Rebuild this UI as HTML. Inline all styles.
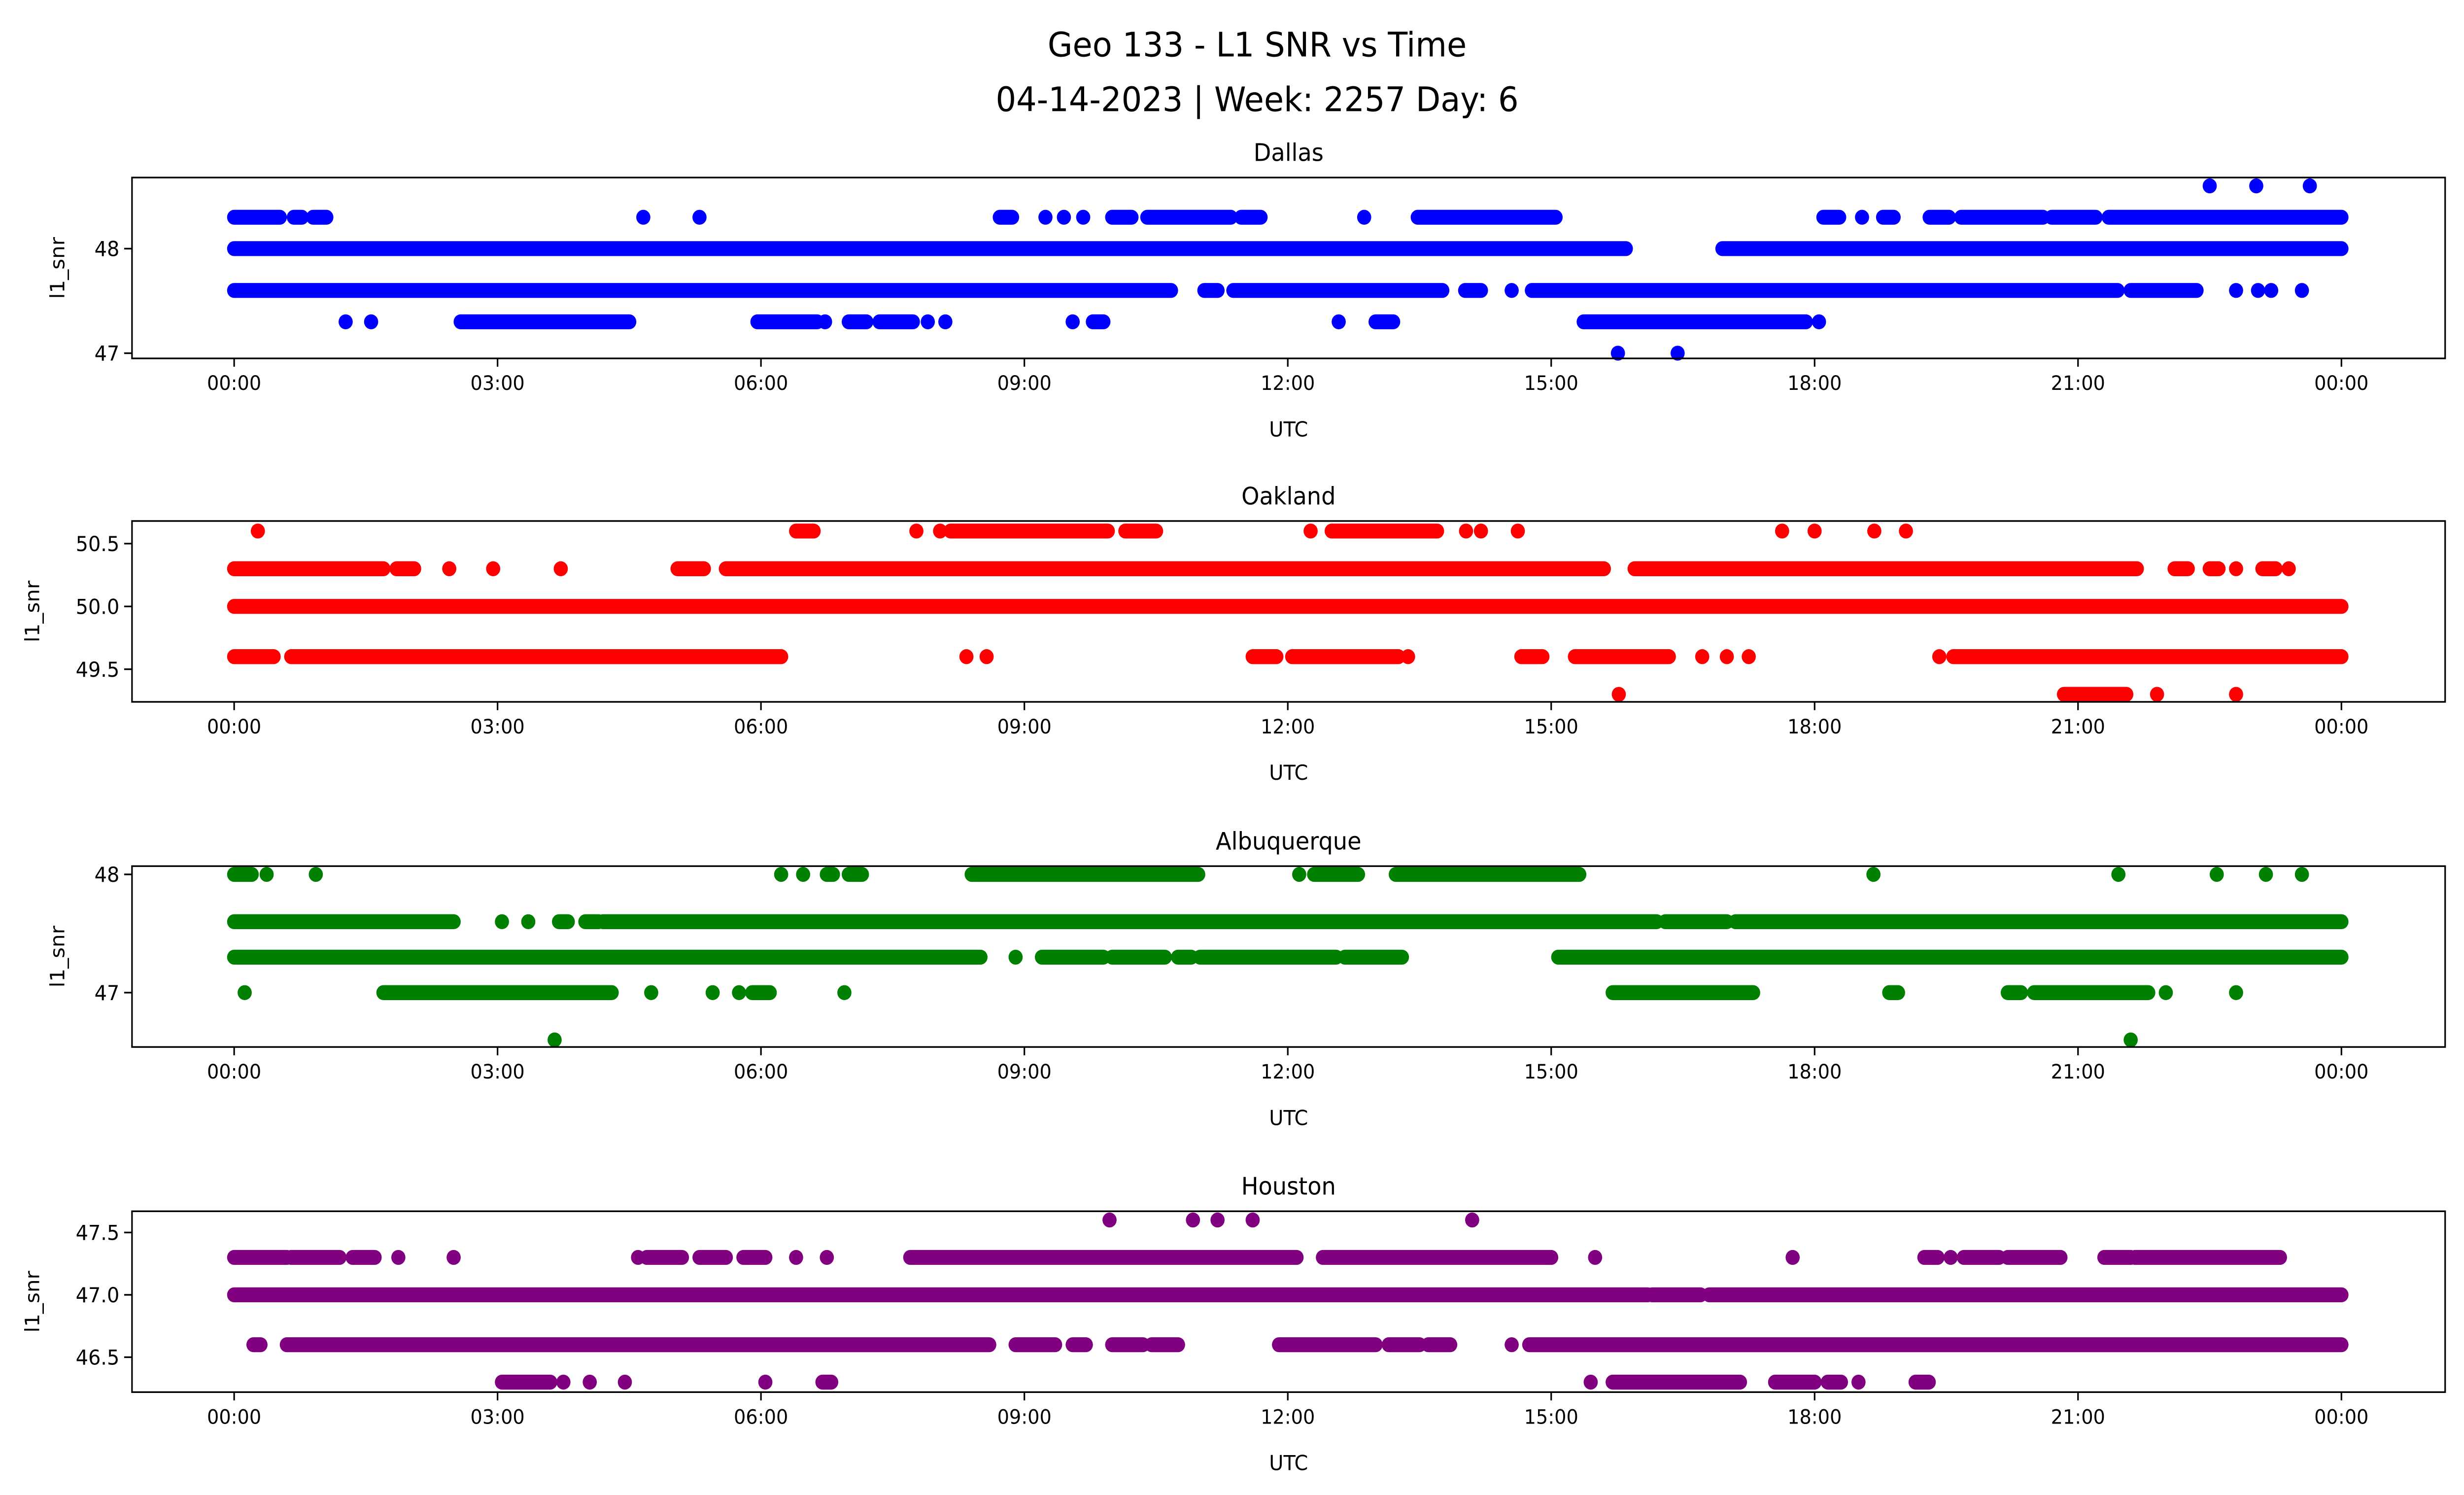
<!DOCTYPE html>
<html><head><meta charset="utf-8">
<style>
html,body{margin:0;padding:0;background:#fff;width:100%;height:100%;overflow:hidden;}
svg{display:block;position:fixed;left:0;top:0;width:100vw;height:100vh;font-family:"DejaVu Sans","Liberation Sans",sans-serif;}
</style></head>
<body>
<svg id="chart" viewBox="0 0 1568 901" preserveAspectRatio="none" xmlns="http://www.w3.org/2000/svg">
<text x="800" y="34" font-size="20.5" text-anchor="middle">Geo 133 - L1 SNR vs Time</text>
<text x="800" y="67" font-size="20.5" text-anchor="middle">04-14-2023 | Week: 2257 Day: 6</text>
<g id="plots"></g>
</svg>
<script>
// Time in hours from 00:00; runs are [start, end] or [single point]
const xTickLabels = ["00:00","03:00","06:00","09:00","12:00","15:00","18:00","21:00","00:00"];
const xTickHours = [0,3,6,9,12,15,18,21,24];
const panelNames = ["Dallas","Oakland","Albuquerque","Houston"];
const panelColors = ["#0000ff","#ff0000","#008000","#800080"];
const yDomains = [[46.95,48.68],[49.24,50.68],[46.54,48.07],[46.22,47.67]];
const yTicks = [[47,48],[49.5,50.0,50.5],[47,48],[46.5,47.0,47.5]];
const yTickLabels = [["47","48"],["49.5","50.0","50.5"],["47","48"],["46.5","47.0","47.5"]];

const dallasLevels = [48.6,48.3,48.0,47.6,47.3,47.0];
const dallasRuns = [
 [[22.5],[23.03],[23.64]],
 [[0,0.52],[0.68,0.77],[0.9,1.05],[4.66],[5.3],[8.72,8.86],[9.24],[9.45],[9.67],[10.0,10.22],[10.4,11.35],[11.47,11.69],[12.87],[13.48,15.05],[18.1,18.28],[18.54],[18.78,18.9],[19.31,19.53],[19.67,20.6],[20.7,21.2],[21.35,24]],
 [[0,15.85],[16.95,24]],
 [[0,10.67],[11.05,11.2],[11.38,13.76],[14.02,14.2],[14.55],[14.78,21.45],[21.6,22.35],[22.8],[23.05],[23.2],[23.55]],
 [[1.27],[1.56],[2.58,4.5],[5.96,6.64],[6.73],[7.0,7.2],[7.35,7.73],[7.9],[8.1],[9.55],[9.78,9.9],[12.58],[13.0,13.2],[15.37,17.9],[18.05]],
 [[15.76],[16.44]]
];
const oaklandLevels = [50.6,50.3,50.0,49.6,49.3];
const oaklandRuns = [
 [[0.27],[6.4,6.6],[7.77],[8.04],[8.16,9.95],[10.15,10.5],[12.26],[12.5,13.7],[14.03],[14.2],[14.62],[17.63],[18.0],[18.68],[19.04]],
 [[0,1.7],[1.85,2.05],[2.45],[2.95],[3.72],[5.05,5.35],[5.6,15.6],[15.95,21.67],[22.1,22.25],[22.5,22.6],[22.8],[23.1,23.25],[23.4]],
 [[0,24]],
 [[0,0.45],[0.65,6.23],[8.34],[8.57],[11.6,11.87],[12.05,13.26],[13.37],[14.66,14.9],[15.27,16.34],[16.72],[17.0],[17.25],[19.42],[19.58,24]],
 [[15.77],[20.84,21.55],[21.9],[22.8]]
];
const albuqLevels = [48.0,47.6,47.3,47.0,46.6];
const albuqRuns = [
 [[0,0.2],[0.37],[0.93],[6.23],[6.48],[6.75,6.82],[7.0,7.15],[8.4,10.98],[12.13],[12.3,12.8],[13.23,15.32],[18.67],[21.46],[22.58],[23.14],[23.55]],
 [[0,2.5],[3.05],[3.35],[3.7,3.8],[4.0,4.15],[4.2,16.2],[16.3,17.0],[17.1,24]],
 [[0,8.5],[8.9],[9.2,9.9],[10.0,10.6],[10.75,10.9],[11.0,12.55],[12.65,13.3],[15.08,24]],
 [[0.12],[1.7,4.3],[4.75],[5.45],[5.75],[5.9,6.1],[6.95],[15.7,17.3],[18.85,18.95],[20.2,20.35],[20.5,21.8],[22.0],[22.8]],
 [[3.65],[21.6]]
];
const houstonLevels = [47.6,47.3,47.0,46.6,46.3];
const houstonRuns = [
 [[9.97],[10.92],[11.2],[11.6],[14.1]],
 [[0,0.6],[0.65,1.2],[1.35,1.6],[1.87],[2.5],[4.6],[4.7,5.1],[5.3,5.6],[5.8,6.05],[6.4],[6.75],[7.7,12.1],[12.4,15.0],[15.5],[17.75],[19.25,19.4],[19.55],[19.7,20.1],[20.2,20.8],[21.3,21.6],[21.65,23.3]],
 [[0,16.1],[16.15,16.7],[16.8,24]],
 [[0.22,0.3],[0.6,8.6],[8.9,9.35],[9.55,9.7],[10.0,10.35],[10.45,10.75],[11.9,13.0],[13.15,13.5],[13.6,13.85],[14.55],[14.75,24]],
 [[3.05,3.6],[3.75],[4.05],[4.45],[6.05],[6.7,6.8],[15.45],[15.7,17.15],[17.55,18.0],[18.15,18.3],[18.5],[19.15,19.3]]
];
const allLevels = [dallasLevels,oaklandLevels,albuqLevels,houstonLevels];
const allRuns = [dallasRuns,oaklandRuns,albuqRuns,houstonRuns];

const NS = "http://www.w3.org/2000/svg";
const plots = document.getElementById('plots');
const axL = 84, axR = 1556, x0 = 149, x24 = 1490;
const tops = [107,314,522,730], H = 109;
function xs(h){ return x0 + (x24 - x0) * h / 24; }
function mk(tag, attrs, parent){
  const e = document.createElementNS(NS, tag);
  for (const k in attrs) e.setAttribute(k, attrs[k]);
  parent.appendChild(e); return e;
}
for (let p = 0; p < 4; p++) {
  const top = tops[p], bot = top + H, d = yDomains[p];
  const ys = v => bot - (v - d[0]) / (d[1] - d[0]) * H;
  const g = mk('g', {}, plots);
  
  
  const t = mk('text', {x: (axL+axR)/2, y: top - 10, 'font-size': 14.5, 'text-anchor': 'middle'}, g);
  t.textContent = panelNames[p];
  
  
  const sg = mk('g', {}, g);
  
  
  const lv = allLevels[p], rs = allRuns[p];
  for (let i = 0; i < lv.length; i++) {
    const y = ys(lv[i]);
    for (const r of rs[i]) {
      if (r.length === 1) {
        const c = mk('circle', {cx: xs(r[0]), cy: y, r: 4.5, fill: panelColors[p]}, sg);
        
        
      } else {
        const l = mk('line', {x1: xs(r[0]), x2: xs(r[1]), y1: y, y2: y, stroke: panelColors[p], 'stroke-width': 9, 'stroke-linecap': 'round'}, sg);
        
        
      }
    }
  }
  const fr = mk('rect', {x: axL, y: top, width: axR-axL, height: H, fill: 'none', stroke: '#000', 'stroke-width': 1}, g);
  
  
  for (let i = 0; i < xTickHours.length; i++) {
    const x = xs(xTickHours[i]);
    mk('line', {x1: x, x2: x, y1: bot, y2: bot + 5, stroke: '#000', 'stroke-width': 1}, g);
    const tl = mk('text', {x: x, y: bot + 19, 'font-size': 12, 'text-anchor': 'middle'}, g);
    tl.textContent = xTickLabels[i];
    
    
  }
  for (let i = 0; i < yTicks[p].length; i++) {
    const y = ys(yTicks[p][i]);
    mk('line', {x1: axL - 5, x2: axL, y1: y, y2: y, stroke: '#000', 'stroke-width': 1}, g);
    const tl = mk('text', {x: axL - 8, y: y + 4.5, 'font-size': 12.5, 'text-anchor': 'end'}, g);
    tl.textContent = yTickLabels[p][i];
    
    
  }
  const xl = mk('text', {x: (axL+axR)/2, y: bot + 47, 'font-size': 12.5, 'text-anchor': 'middle'}, g);
  xl.textContent = 'UTC';
  
  
  const ylx = p === 0 || p === 2 ? 41 : 25;
  const yl = mk('text', {x: ylx, y: top + H/2, 'font-size': 12.5, 'text-anchor': 'middle', transform: 'rotate(-90 ' + ylx + ' ' + (top + H/2) + ')'}, g);
  yl.textContent = 'l1_snr';
  
  
}
</script>
</body></html>
